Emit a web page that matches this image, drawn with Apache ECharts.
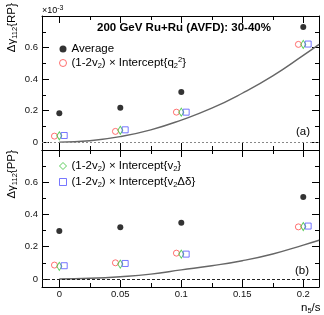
<!DOCTYPE html>
<html>
<head>
<meta charset="utf-8">
<script src="https://cdn.jsdelivr.net/npm/echarts@6/dist/echarts.min.js"></script>
<style>html,body{margin:0;padding:0;background:#fff;}#c{width:324px;height:315px;}</style>
</head>
<body>
<div id="c"></div>
<script>
// ---- data ----
const xRed   = [-0.004, 0.046, 0.096, 0.196];
const xGreen = [0, 0.05, 0.1, 0.2];
const xBlue  = [0.004, 0.054, 0.104, 0.204];
const xAvg   = [0, 0.05, 0.1, 0.2];

const rpAverage = [0.183, 0.218, 0.318, 0.73];
const rpQ2      = [0.038, 0.068, 0.19, 0.62];
const rpV2      = [0.040, 0.075, 0.19, 0.62];
const rpV2dd    = [0.042, 0.078, 0.19, 0.622];

const ppAverage = [0.297, 0.32, 0.348, 0.508];
const ppQ2      = [0.086, 0.100, 0.160, 0.323];
const ppV2      = [0.078, 0.092, 0.154, 0.325];
const ppV2dd    = [0.082, 0.096, 0.154, 0.328];

const curveX  = [0, 0.025, 0.05, 0.075, 0.1, 0.125, 0.15, 0.175, 0.2, 0.213];
const rpCurve = [0, 0.009, 0.035, 0.078, 0.14, 0.215, 0.31, 0.42, 0.55, 0.62];
const ppCurve = [0, 0.004, 0.014, 0.03, 0.056, 0.082, 0.113, 0.155, 0.21, 0.24];

const xMajor = [0, 0.05, 0.1, 0.15, 0.2];
const xMinor = [0.025, 0.075, 0.125, 0.175];
const xLabels = ['0', '0.05', '0.1', '0.15', '0.2'];
const yMajor = [0, 0.2, 0.4, 0.6];
const yMinor = [0.1, 0.3, 0.5, 0.7];
const yLabels = ['0', '0.2', '0.4', '0.6'];

const X_MIN = -0.0142, X_MAX = 0.2129, Y_MIN = -0.05, Y_MAX = 0.8;

// ---- helpers ----
const FONT = 'Liberation Sans, Arial, Helvetica, sans-serif';
const pair = (xs, ys) => xs.map((x, i) => [x, ys[i]]);
const C_RED = '#ff4d4d', C_GREEN = '#33c233', C_BLUE = '#5555ff', C_CURVE = '#666666';
const HIDDEN_LINE = {show: false, onZero: false};
const FRAME_LINE = {show: true, onZero: false, lineStyle: {color: '#000', width: 1}};

function xAxes(grid, withLabels) {
  const base = {
    type: 'value', gridIndex: grid, min: X_MIN, max: X_MAX,
    splitLine: {show: false}, axisLine: HIDDEN_LINE, axisLabel: {show: false}
  };
  return [
    Object.assign({}, base, {
      position: 'bottom', axisLine: FRAME_LINE,
      axisTick: {show: true, inside: true, length: 7, customValues: xMajor, lineStyle: {color: '#000'}},
      axisLabel: withLabels ? {
        show: true, customValues: xMajor, margin: 2, fontSize: 9.5, color: '#111', fontFamily: FONT,
        formatter: v => xLabels[xMajor.findIndex(m => Math.abs(m - v) < 1e-9)] ?? ''
      } : {show: false}
    }),
    Object.assign({}, base, {
      position: 'bottom',
      axisTick: {show: true, inside: true, length: 4, customValues: xMinor, lineStyle: {color: '#000'}}
    }),
    Object.assign({}, base, {
      position: 'top', axisLine: FRAME_LINE,
      axisTick: {show: true, inside: true, length: 7, customValues: xMajor, lineStyle: {color: '#000'}}
    }),
    Object.assign({}, base, {
      position: 'top',
      axisTick: {show: true, inside: true, length: 4, customValues: xMinor, lineStyle: {color: '#000'}}
    })
  ];
}
function yAxes(grid) {
  const base = {
    type: 'value', gridIndex: grid, min: Y_MIN, max: Y_MAX,
    splitLine: {show: false}, axisLine: HIDDEN_LINE, axisLabel: {show: false}
  };
  return [
    Object.assign({}, base, {
      position: 'left', axisLine: FRAME_LINE,
      axisTick: {show: true, inside: true, length: 7, customValues: yMajor, lineStyle: {color: '#000'}},
      axisLabel: {
        show: true, customValues: yMajor, margin: 4, fontSize: 9.5, color: '#111', fontFamily: FONT,
        formatter: v => yLabels[yMajor.findIndex(m => Math.abs(m - v) < 1e-9)] ?? ''
      }
    }),
    Object.assign({}, base, {
      position: 'left',
      axisTick: {show: true, inside: true, length: 4, customValues: yMinor, lineStyle: {color: '#000'}}
    }),
    Object.assign({}, base, {
      position: 'right', axisLine: FRAME_LINE,
      axisTick: {show: true, inside: true, length: 7, customValues: yMajor, lineStyle: {color: '#000'}}
    }),
    Object.assign({}, base, {
      position: 'right',
      axisTick: {show: true, inside: true, length: 4, customValues: yMinor, lineStyle: {color: '#000'}}
    })
  ];
}

const STYLE = {
  avg:  {symbol: 'circle', symbolSize: 6, itemStyle: {color: '#000', borderWidth: 0}},
  q2:   {symbol: 'circle', symbolSize: 6, itemStyle: {color: 'rgba(255,255,255,0)', borderColor: C_RED, borderWidth: 1}},
  v2:   {symbol: 'diamond', symbolSize: [5, 8], itemStyle: {color: 'rgba(255,255,255,0)', borderColor: C_GREEN, borderWidth: 1}},
  v2dd: {symbol: 'rect', symbolSize: 6, itemStyle: {color: 'rgba(255,255,255,0)', borderColor: C_BLUE, borderWidth: 1}}
};

function scatter(name, grid, xs, ys) {
  return {
    name: name, type: 'scatter', xAxisIndex: grid * 4, yAxisIndex: grid * 4,
    data: pair(xs, ys), symbol: STYLE[name].symbol, symbolSize: STYLE[name].symbolSize,
    itemStyle: STYLE[name].itemStyle, emphasis: {disabled: true}, silent: true, z: 5
  };
}

function panelSeries(grid, avg, q2, v2, v2dd, curve, zeroStyle) {
  return [
    {
      name: 'curve' + grid, type: 'line', xAxisIndex: grid * 4, yAxisIndex: grid * 4,
      data: pair(curveX, curve), smooth: true, symbol: 'none', silent: true,
      lineStyle: {color: C_CURVE, width: 1.4}, z: 2,
      markLine: {
        silent: true, symbol: 'none', label: {show: false},
        lineStyle: zeroStyle, data: [{yAxis: 0}]
      }
    },
    scatter('avg', grid, xAvg, avg),
    scatter('q2', grid, xRed, q2),
    scatter('v2', grid, xGreen, v2),
    scatter('v2dd', grid, xBlue, v2dd)
  ];
}

const rich = {
  n: {fontSize: 11.5, fontFamily: FONT, color: '#000', lineHeight: 14},
  s: {fontSize: 7.5, fontFamily: FONT, color: '#000', lineHeight: 5, verticalAlign: 'bottom'},
  p: {fontSize: 7.5, fontFamily: FONT, color: '#000', lineHeight: 5, verticalAlign: 'top'}
};
// the closing brace is plain text after a token
const legendText = {
  avg: '{n|Average}',
  q2: '{n|(1-2v}{s|2}{n|) × Intercept{q}{s|2}{p|2}}',
  v2: '{n|(1-2v}{s|2}{n|) × Intercept{v}{s|2}}',
  v2dd: '{n|(1-2v}{s|2}{n|) × Intercept{v}{s|2}{n|Δδ}}'
};
function legendItem(name) {
  return {name: name, icon: STYLE[name].symbol, itemStyle: STYLE[name].itemStyle};
}

const legendBase = {
  orient: 'vertical', selectedMode: false, itemWidth: 7, itemHeight: 7, itemGap: 1,
  textStyle: {fontSize: 11.5, fontFamily: FONT, color: '#000', rich: rich},
  formatter: n => legendText[n]
};

const option = {
  animation: false,
  backgroundColor: '#fff',
  grid: [
    {left: 42, top: 16, width: 277, height: 134},
    {left: 42, top: 150, width: 277, height: 137}
  ],
  xAxis: [...xAxes(0, false), ...xAxes(1, true)],
  yAxis: [...yAxes(0), ...yAxes(1)],
  legend: [
    Object.assign({}, legendBase, {left: 54, top: 38, data: [legendItem('avg'), legendItem('q2')]}),
    Object.assign({}, legendBase, {left: 54, top: 155, itemGap: 3, data: [legendItem('v2'), legendItem('v2dd')]})
  ],
  series: [
    ...panelSeries(0, rpAverage, rpQ2, rpV2, rpV2dd, rpCurve,
      {color: '#888', type: [2, 2], width: 1}),
    ...panelSeries(1, ppAverage, ppQ2, ppV2, ppV2dd, ppCurve,
      {color: '#222', type: [3, 2], width: 1})
  ],
  graphic: [
    {
      type: 'text', left: 97, top: 22,
      style: {text: '200 GeV Ru+Ru (AVFD): 30-40%', font: 'bold 11.5px ' + FONT, fill: '#000'}
    },
    {
      type: 'text', x: 42, y: 5,
      style: {text: '{n|×10}{p|-3}', rich: {
        n: {fontSize: 9, fontFamily: FONT, fill: '#000', lineHeight: 11},
        p: {fontSize: 7, fontFamily: FONT, fill: '#000', lineHeight: 5, verticalAlign: 'top'}
      }}
    },
    {
      type: 'text', x: 5, y: 3, rotation: Math.PI / 2,
      style: {text: '{n|Δγ}{s|112}{n|{RP}}', align: 'right', verticalAlign: 'top', rich: rich}
    },
    {
      type: 'text', x: 5, y: 150, rotation: Math.PI / 2,
      style: {text: '{n|Δγ}{s|112}{n|{PP}}', align: 'right', verticalAlign: 'top', rich: rich}
    },
    {
      type: 'text', x: 296, y: 126,
      style: {text: '(a)', font: '11.5px ' + FONT, fill: '#000'}
    },
    {
      type: 'text', x: 295, y: 265,
      style: {text: '(b)', font: '11.5px ' + FONT, fill: '#000'}
    },
    {
      type: 'text', x: 301, y: 301,
      style: {text: '{n|n}{s|5}{n|/s}', rich: rich}
    }
  ]
};

const chart = echarts.init(document.getElementById('c'), null, {renderer: 'canvas'});
chart.setOption(option);
</script>
</body>
</html>
